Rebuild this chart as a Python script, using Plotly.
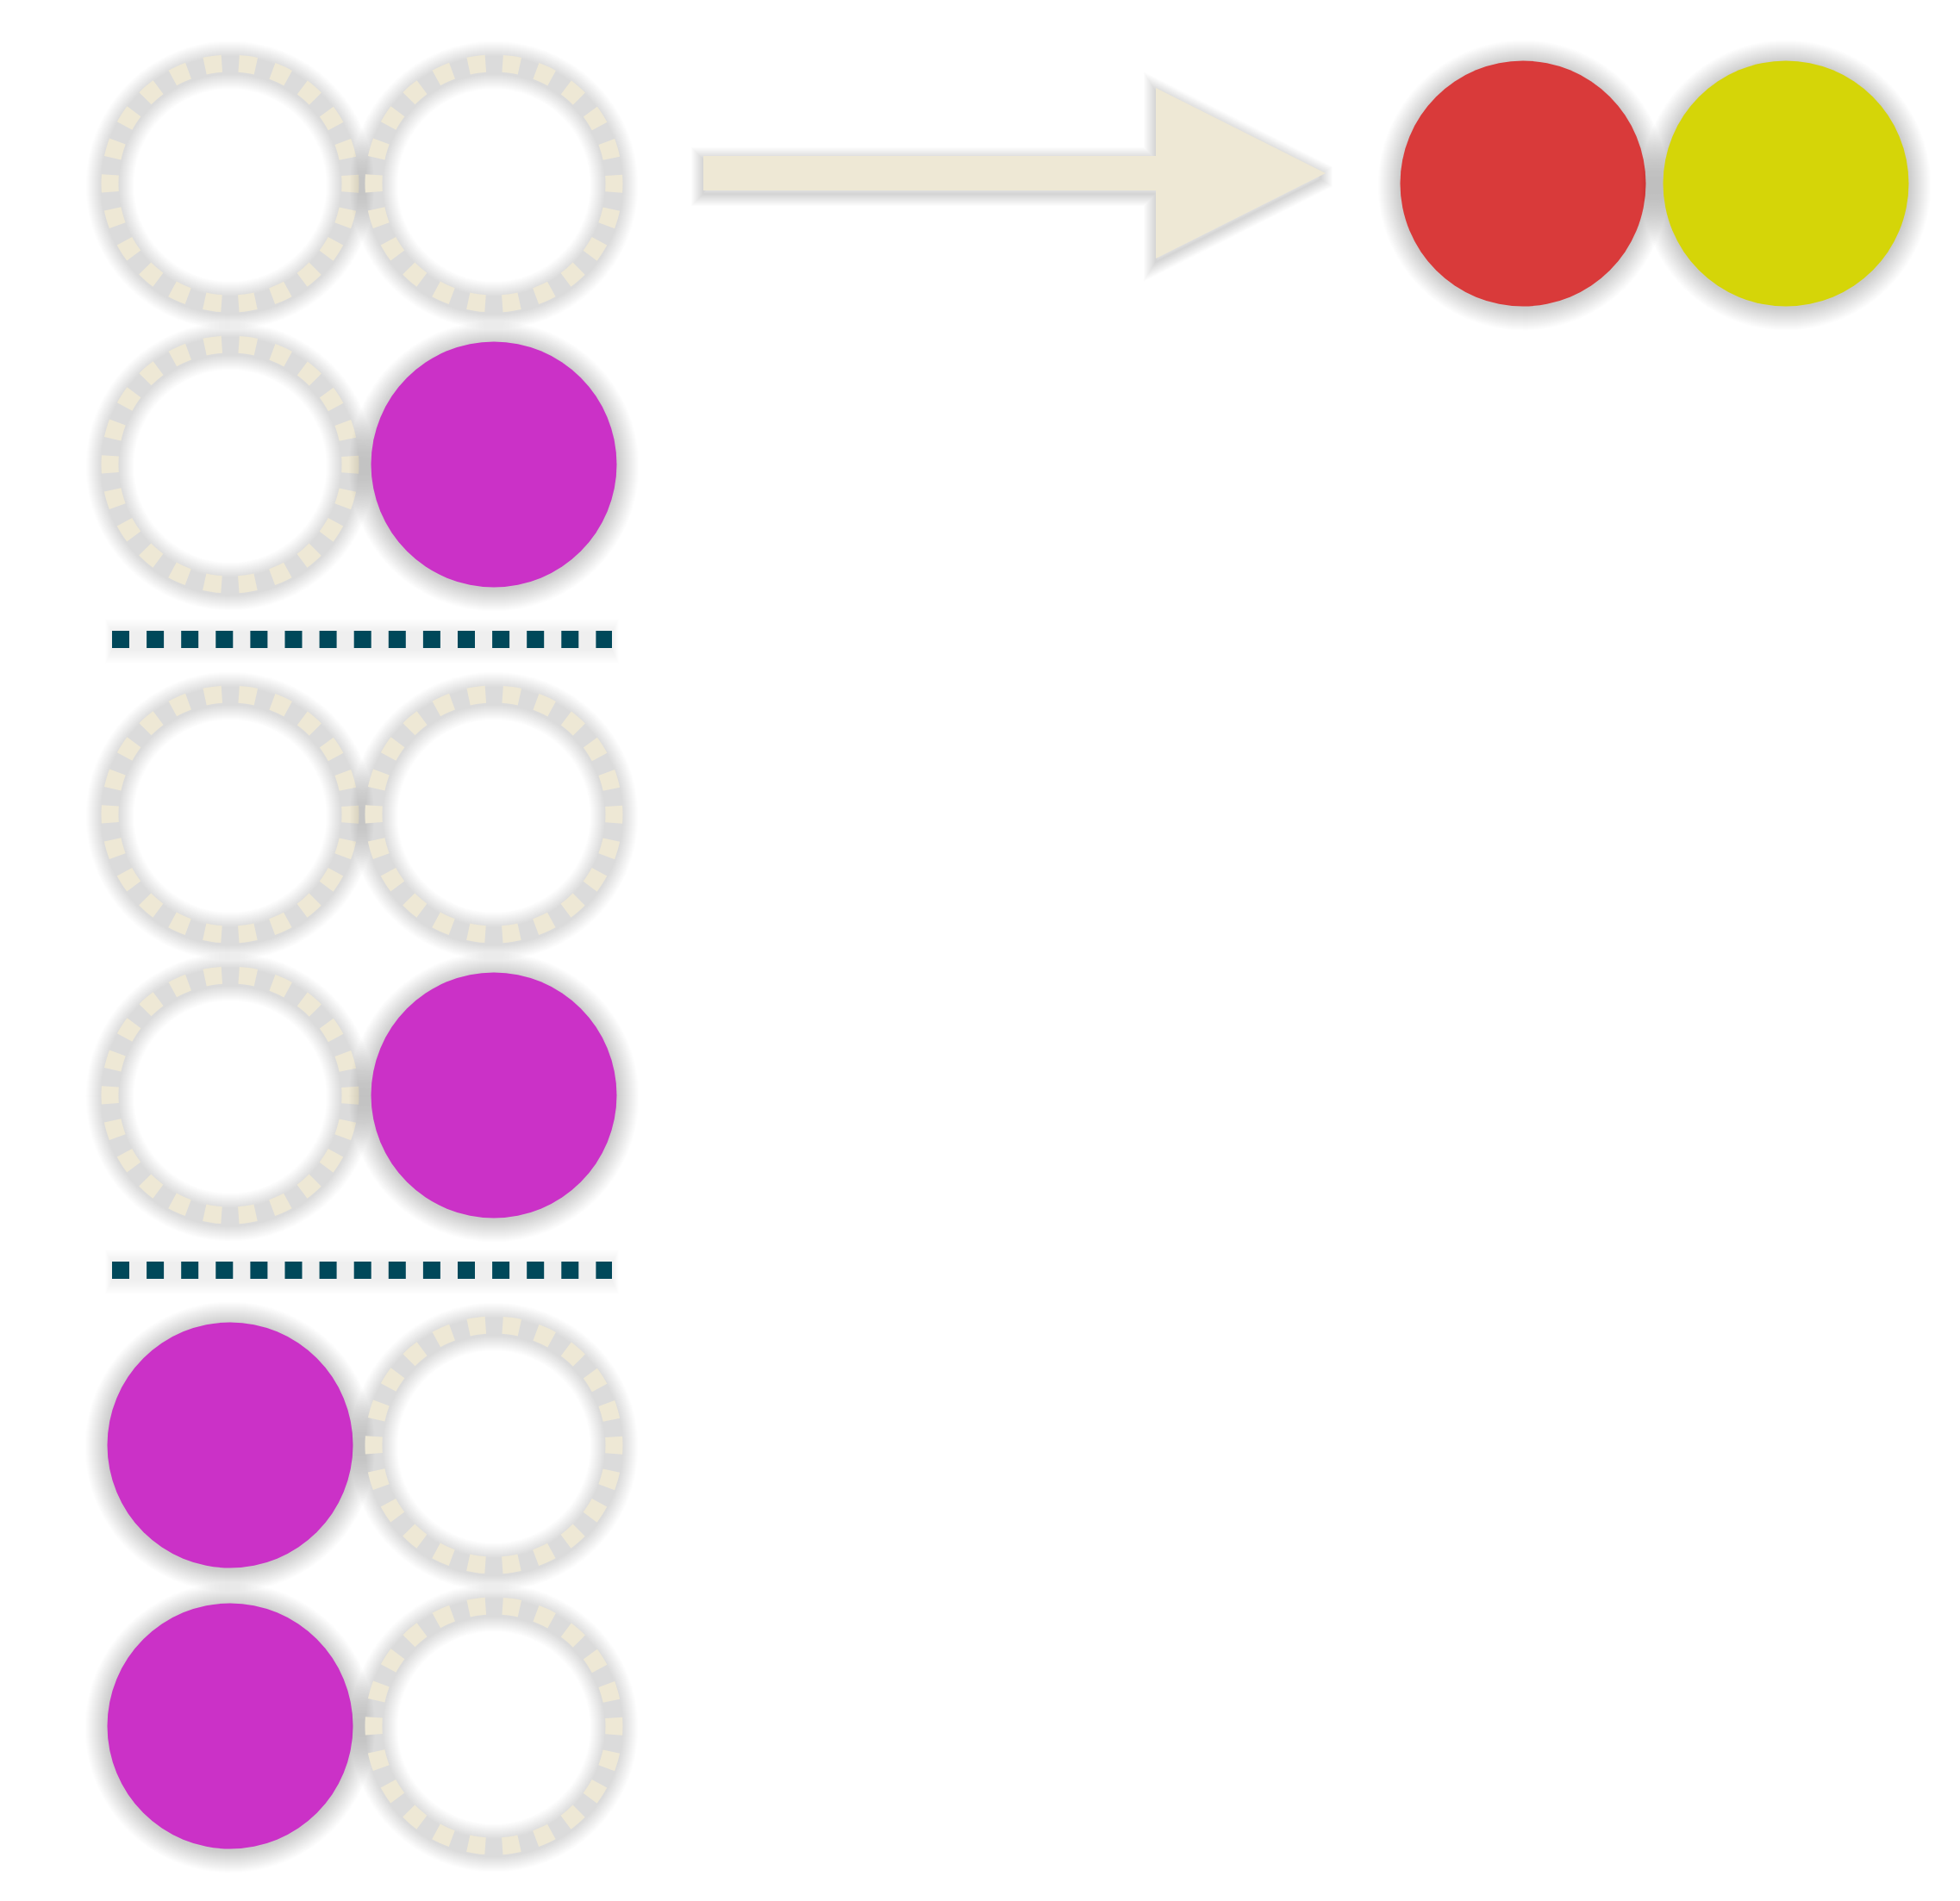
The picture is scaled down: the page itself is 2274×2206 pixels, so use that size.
import math

import plotly.graph_objects as go

# Data
# -------------------------------------------------------------------------
# six input pairs in three groups of two, split by a dotted separator
pair_labels = ["pair 1", "pair 2", "pair 3", "pair 4", "pair 5", "pair 6"]
pair_group = [0, 0, 1, 1, 2, 2]
left_on = [0, 0, 0, 0, 1, 1]
right_on = [0, 1, 0, 1, 0, 0]
# what comes out on the right of the arrow
result_labels = ["red", "yellow"]

# Styles
# -------------------------------------------------------------------------
BG = "#FFFFFF"
BEIGE = "#EEE8D5"
MAGENTA = "#CB31C7"
TEAL = "#00485A"
RESULT_COLOURS = {"red": "#D93A3A", "yellow": "#D5D508"}

# page is W x H, plotly div sits inside the 8px body margin
W, H = 2274, 2206
PAD = 8

COL_X = [267, 573]
ROW_Y0 = 213
ROW_STEP = 326
GROUP_STEP = 732
R_DOT = 142.5        # filled circle radius
R_RING = 139.5       # dashed ring, centre of the stroke
RING_W = 20
N_DASH = 22
RESULT_X0 = 1767
RESULT_STEP = 305
SHADOW_DY = 2


def row_y(i):
    return ROW_Y0 + pair_group[i] * GROUP_STEP + (i % 2) * ROW_STEP


def circle(cx, cy, r, **kw):
    return dict(type="circle", xref="x", yref="y", layer="below",
                x0=cx - r, x1=cx + r, y0=cy - r, y1=cy + r, **kw)


def filled(cx, cy, colour):
    shp = []
    # soft drop shadow, a stack of faint discs
    for k in range(26, 0, -1):
        shp.append(circle(cx, cy + SHADOW_DY, R_DOT + k,
                          fillcolor="rgba(0,0,0,0.0095)",
                          line=dict(width=0)))
    shp.append(circle(cx, cy, R_DOT, fillcolor=colour, line=dict(width=0)))
    return shp


def ring(cx, cy):
    shp = []
    for k in range(18, 0, -1):
        shp.append(circle(cx, cy + SHADOW_DY, R_RING,
                          line=dict(color="rgba(0,0,0,0.0062)",
                                    width=RING_W + 2 * k)))
    gap = 2 * math.pi * R_RING / N_DASH - RING_W
    # half dash at the start so one square sits centred on 3 o'clock
    dash = "%dpx,%.2fpx,%dpx,0px" % (RING_W / 2, gap, RING_W / 2)
    shp.append(circle(cx, cy, R_RING,
                      line=dict(color=BEIGE, width=RING_W, dash=dash)))
    return shp


def separator(y):
    x0, x1 = COL_X[0] - 137, COL_X[1] + 137
    shp = []
    for k in range(16, 0, -1):
        shp.append(dict(type="line", xref="x", yref="y", layer="below",
                        x0=x0 - k / 2, x1=x1 + k / 2,
                        y0=y + SHADOW_DY, y1=y + SHADOW_DY,
                        line=dict(color="rgba(0,0,0,0.0055)", width=20 + 2 * k)))
    shp.append(dict(type="line", xref="x", yref="y", layer="below",
                    x0=x0, x1=x1, y0=y, y1=y,
                    line=dict(color=TEAL, width=20, dash="20px,20.1px")))
    return shp


def arrow(x0, x_head, x_tip, y, half_shaft, half_head):
    pts = [(x0, y - half_shaft), (x_head, y - half_shaft),
           (x_head, y - half_head), (x_tip, y), (x_head, y + half_head),
           (x_head, y + half_shaft), (x0, y + half_shaft)]
    # shadow outline with a tiny flat at the tip, so the miter join
    # does not poke out past the point
    blunt = pts[:3] + [(x_tip - 6, y - 3), (x_tip - 6, y + 3)] + pts[4:]

    def path(p, dy):
        return "M " + " L ".join("%s,%s" % (px, py + dy) for px, py in p) + " Z"

    shp = []
    for k in range(14, 0, -1):
        shp.append(dict(type="path", xref="x", yref="y", layer="below",
                        path=path(blunt, SHADOW_DY + 2),
                        fillcolor="rgba(0,0,0,0)",
                        line=dict(color="rgba(0,0,0,0.011)", width=2 * k)))
    shp.append(dict(type="path", xref="x", yref="y", layer="below",
                    path=path(pts, 0), fillcolor=BEIGE, line=dict(width=0)))
    return shp


# Build shapes
# -------------------------------------------------------------------------
shapes = []
for i in range(len(pair_labels)):
    y = row_y(i)
    for cx, on in zip(COL_X, (left_on[i], right_on[i])):
        shapes += filled(cx, y, MAGENTA) if on else ring(cx, y)

# dotted separators between the groups
for g in range(1, max(pair_group) + 1):
    last = max(i for i in range(len(pair_labels)) if pair_group[i] == g - 1)
    first = min(i for i in range(len(pair_labels)) if pair_group[i] == g)
    shapes += separator((row_y(last) + row_y(first)) / 2)

shapes += arrow(816, 1341, 1538, ROW_Y0 - 12, 20, 99)

res_x = [RESULT_X0 + j * RESULT_STEP for j in range(len(result_labels))]
for cx, lab in zip(res_x, result_labels):
    shapes += filled(cx, ROW_Y0, RESULT_COLOURS[lab])

# invisible hover points for each cell
hx, hy, ht = [], [], []
for i, lab in enumerate(pair_labels):
    for cx, side, on in zip(COL_X, ("left", "right"), (left_on[i], right_on[i])):
        hx.append(cx)
        hy.append(row_y(i))
        ht.append("%s %s: %s" % (lab, side, "on" if on else "off"))
for cx, lab in zip(res_x, result_labels):
    hx.append(cx)
    hy.append(ROW_Y0)
    ht.append("result: " + lab)

cells = go.Scatter(x=hx, y=hy, mode="markers", text=ht,
                   marker=dict(size=40, opacity=0),
                   hovertemplate="%{text}<extra></extra>", showlegend=False)

fig = go.Figure(data=[cells])
fig.update_layout(
    width=W - 2 * PAD, height=H - 2 * PAD,
    margin=dict(l=0, r=0, t=0, b=0),
    paper_bgcolor=BG, plot_bgcolor=BG,
    xaxis=dict(range=[PAD, W - PAD], visible=False, fixedrange=True),
    yaxis=dict(range=[H - PAD, PAD], visible=False, fixedrange=True),
    shapes=shapes,
    showlegend=False,
)
fig.write_html("out.html")
